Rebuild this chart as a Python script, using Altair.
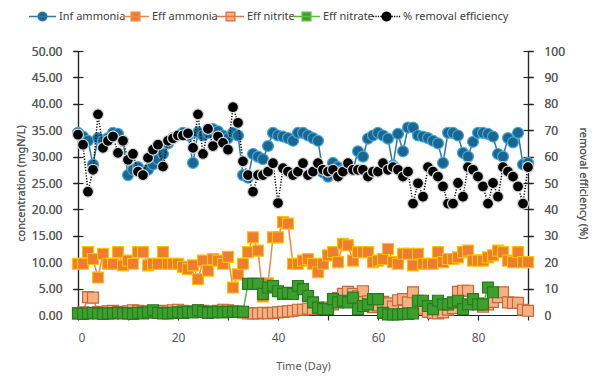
import math
import altair as alt
import pandas as pd

# ---- data -------------------------------------------------------------
days = list(range(91))

inf_ammonia = [
    34.5, 33.8, 33.0, 28.5, 33.5, 33.0, 33.5, 34.5, 34.3, 33.0,
    26.5, 27.5, 28.0, 27.0, 27.5, 28.5, 29.5, 30.5, 32.5, 33.5,
    34.0, 34.5, 34.0, 28.8, 34.6, 34.0, 34.5, 35.2, 34.8, 34.0,
    33.5, 34.5, 34.0, 26.5, 26.0, 30.5, 30.0, 29.5, 32.0, 34.5,
    34.0, 33.8, 33.5, 33.0, 34.5, 34.5, 34.0, 33.5, 33.0, 27.0,
    26.2, 28.8, 28.0, 27.5, 27.8, 27.5, 31.0, 30.0, 33.4, 34.0,
    34.5, 34.0, 33.4, 28.3, 34.3, 31.0, 35.5, 35.5, 34.0, 33.8,
    33.5, 33.0, 32.5, 28.8, 34.5, 34.5, 34.0, 30.7, 30.0, 32.8,
    34.5, 34.5, 34.3, 33.8, 30.5, 30.0, 33.5, 32.7, 34.5, 28.5,
    28.8,
]

eff_ammonia = [
    9.7, 9.7, 11.9, 10.6, 7.1, 11.6, 9.7, 9.7, 11.9, 9.4,
    10.3, 9.7, 11.9, 11.9, 9.4, 9.7, 9.7, 11.9, 9.7, 9.7,
    9.7, 9.1, 8.7, 9.4, 6.8, 10.3, 8.4, 10.6, 10.3, 9.7,
    11.0, 5.2, 7.7, 9.7, 11.9, 14.7, 12.2, 3.5, 6.0, 14.7,
    14.7, 17.6, 17.3, 9.7, 9.7, 10.3, 10.6, 9.7, 8.1, 9.7,
    11.3, 11.9, 10.0, 13.5, 13.2, 10.3, 11.9, 11.9, 11.9, 10.0,
    10.3, 10.6, 12.5, 10.0, 9.7, 11.6, 11.6, 9.4, 11.6, 9.7,
    9.7, 9.7, 11.9, 10.0, 10.6, 10.6, 10.9, 11.9, 12.2, 10.3,
    10.3, 10.3, 10.9, 11.3, 12.2, 11.9, 10.3, 10.0, 11.9, 10.0,
    10.0,
]

eff_nitrite = [
    0.3, 0.5, 3.4, 3.3, 0.5, 0.6, 0.7, 0.8, 0.6, 0.5,
    0.7, 0.9, 0.8, 0.6, 0.7, 0.5, 0.6, 0.8, 0.7, 0.9,
    1.0, 0.8, 0.6, 0.7, 0.9, 0.8, 0.7, 0.6, 0.8, 1.0,
    0.9, 0.7, 0.6, 0.5, 0.3, 0.3, 0.3, 0.4, 0.3, 0.4,
    0.5, 0.6, 0.7, 0.8, 1.0, 1.0, 1.2, 1.1, 1.3, 1.2,
    1.4, 2.0, 3.2, 4.0, 4.4, 4.0, 3.6, 4.5, 2.6, 1.5,
    1.8, 2.5, 2.2, 1.6, 2.8, 3.0, 2.4, 4.3, 2.0, 1.2,
    0.6, 0.4, 0.3, 0.5, 1.0, 1.3, 4.4, 4.6, 4.6, 3.0,
    2.2, 1.6, 2.0, 2.5, 3.4, 4.3, 2.4, 2.3, 2.3, 1.0,
    0.8,
]

# nitrate was measured up to day 83
eff_nitrate = [
    0.3, 0.2, 0.3, 0.4, 0.3, 0.2, 0.3, 0.3, 0.4, 0.3,
    0.3, 0.2, 0.4, 0.3, 0.5, 0.9, 0.4, 0.3, 0.3, 0.4,
    0.5, 0.4, 0.6, 0.5, 0.9, 0.6, 0.4, 0.5, 0.6, 0.5,
    0.6, 0.6, 0.6, 0.6, 5.9, 5.9, 5.9, 4.0, 5.2, 5.5,
    4.5, 4.0, 4.2, 4.0, 5.5, 4.9, 3.6, 2.4, 1.4, 1.1,
    1.1, 3.0, 2.4, 2.7, 2.4, 3.3, 1.1, 1.7, 2.0, 3.0,
    3.0, 0.4, 0.1, 0.1, 0.1, 0.2, 0.2, 0.3, 2.7, 2.7,
    1.7, 1.1, 2.7, 2.0, 2.0, 2.4, 2.7, 1.1, 2.0, 3.0,
    2.0, 2.0, 5.2, 4.3,
]

removal_eff = [
    68.3, 64.5, 46.7, 55.0, 76.0, 63.3, 66.0, 67.6, 61.4, 66.0,
    58.8, 61.0, 54.3, 53.0, 59.5, 62.6, 64.5, 56.2, 66.0, 66.9,
    68.0, 68.0, 68.8, 63.3, 76.0, 61.0, 70.5, 64.0, 67.6, 65.2,
    62.6, 78.7, 72.8, 58.2, 53.0, 46.7, 53.0, 53.0, 54.3, 57.5,
    42.4, 55.6, 54.3, 53.0, 54.3, 57.5, 53.0, 54.3, 57.5, 55.0,
    54.3, 55.0, 52.4, 54.3, 57.5, 55.0, 55.0, 55.0, 52.4, 54.3,
    54.3, 57.5, 55.0, 56.0, 55.0, 52.4, 54.3, 42.2, 49.9, 44.8,
    56.0, 54.3, 52.4, 48.7, 42.2, 42.2, 50.0, 44.8, 56.0, 55.0,
    52.4, 48.7, 42.2, 50.0, 44.8, 56.0, 54.3, 52.4, 48.7, 42.2,
    56.0,
]

series_names = ["Inf ammonia", "Eff ammonia", "Eff nitrite", "Eff nitrate",
                "% removal efficiency"]
series_values = [inf_ammonia, eff_ammonia, eff_nitrite, eff_nitrate, removal_eff]
fill_colors = ["#1b6690", "#ED7D31", "#F4B183", "#3C9F2E", "#000000"]
edge_colors = ["#45a8d8", "#FFC000", "#C8683A", "#2B7A20", "#d8d8d8"]
line_colors = ["#2d79a6", "#F08A4B", "#E2764A", "#5DBB3F", "#000000"]
marker_shapes = ["circle", "square", "square", "square", "circle"]
on_right_axis = [False, False, False, False, True]

x_ticks = list(range(0, 91, 10))
conc_ticks = [i * 5 for i in range(11)]
eff_ticks = list(range(0, 101, 10))

# ---- legend symbols: a short line with the marker on it ----------------
def ring(r, n=20):
    pts = [(r * math.cos(2 * math.pi * k / n), r * math.sin(2 * math.pi * k / n))
           for k in range(n)]
    return "M" + "L".join(f"{x:.3f},{y:.3f}" for x, y in pts) + "Z"

def box(h):
    return f"M{-h},{-h}L{h},{-h}L{h},{h}L{-h},{h}Z"

solid = "M-1,0L1,0"
dots = "".join(f"M{a:.2f},0L{a + 0.09:.2f},0" for a in
               [-1.0, -0.82, -0.64, -0.46, 0.38, 0.56, 0.74, 0.92])
legend_paths = [solid + ring(0.32), solid + box(0.32), solid + box(0.32),
                solid + box(0.32), dots + ring(0.32)]
legend_x = [-50, 43, 138, 214, 294]   # legend entries, left to right

# ---- shared scales / axes ---------------------------------------------
x_enc = alt.X("day:Q", scale=alt.Scale(domain=[0, 90], nice=False),
              axis=alt.Axis(values=x_ticks, title="Time (Day)",
                            labelExpr="datum.value % 20 == 0 ? datum.label : ''",
                            tickSize=5, labelPadding=12, titlePadding=17))

conc_scale = alt.Scale(domain=[0, 50], nice=False)
eff_scale = alt.Scale(domain=[0, 100], nice=False)

conc_axis = alt.Axis(orient="left", values=conc_ticks, format=".2f",
                     title="concentration (mgN/L)", tickSize=5,
                     labelPadding=11, titlePadding=5)
eff_axis = alt.Axis(orient="right", values=eff_ticks, format="d",
                    title="removal efficiency (%)", tickSize=5,
                    labelPadding=11, titlePadding=13)

layers = []

# inner halves of the tick marks, so they cross the axis lines
tick_df = pd.DataFrame({"day": days, "value": inf_ammonia})
layers.append(alt.Chart(tick_df).mark_point(opacity=0).encode(
    x=x_enc,
    y=alt.Y("value:Q", scale=conc_scale,
            axis=alt.Axis(orient="left", values=conc_ticks, offset=-5, tickSize=10,
                          domain=False, labels=False, title=None)),
))
layers.append(alt.Chart(tick_df).mark_point(opacity=0).encode(
    x=x_enc,
    y=alt.Y("value:Q", scale=eff_scale,
            axis=alt.Axis(orient="right", values=eff_ticks, offset=-5, tickSize=10,
                          domain=False, labels=False, title=None)),
))

axis_shown = {"left": False, "right": False}
for i, name in enumerate(series_names):
    vals = series_values[i]
    df = pd.DataFrame({"day": days[:len(vals)], "value": vals, "series": name})
    side = "right" if on_right_axis[i] else "left"
    axis = None
    if not axis_shown[side]:
        axis = eff_axis if on_right_axis[i] else conc_axis
        axis_shown[side] = True
    y_enc = alt.Y("value:Q", scale=eff_scale if on_right_axis[i] else conc_scale,
                  axis=axis)

    dash = [1.2, 1.6] if on_right_axis[i] else [1, 0]
    line = alt.Chart(df).mark_line(color=line_colors[i], strokeWidth=1.5,
                                   strokeDash=dash).encode(x=x_enc, y=y_enc)

    legend = alt.Legend(
        orient="none", legendX=legend_x[i], legendY=-49, title=None,
        symbolType=legend_paths[i], symbolSize=729,
        symbolFillColor=fill_colors[i], symbolStrokeColor=line_colors[i],
        symbolStrokeWidth=1.5, symbolOpacity=1,
        labelFont="Noto Sans", labelFontSize=11, labelColor="#404040",
        labelOffset=2, padding=0,
    )
    points = alt.Chart(df).mark_point(
        filled=True, shape=marker_shapes[i], size=120, stroke=edge_colors[i],
        strokeWidth=1.2, opacity=1,
    ).encode(
        x=x_enc, y=y_enc,
        fill=alt.Fill("series:N",
                      scale=alt.Scale(domain=[name], range=[fill_colors[i]]),
                      legend=legend),
    )
    layers += [line, points]

chart = alt.layer(*layers).resolve_scale(
    y="independent", fill="independent"
).properties(
    width=450, height=264,
    autosize=alt.AutoSizeParams(type="none"),
    padding={"left": 78, "top": 51, "right": 72, "bottom": 61},
).configure_view(stroke=None).configure_axis(
    grid=False, labelFont="Noto Sans", titleFont="Noto Sans", labelFontSize=12,
    titleFontSize=11, labelColor="#595959", titleColor="#595959",
    titleFontWeight="normal", domainColor="#262626", tickColor="#262626",
    domainWidth=1.2, tickWidth=1.2,
)

chart.save("out.html", embed_options={"renderer": "svg", "actions": False})
